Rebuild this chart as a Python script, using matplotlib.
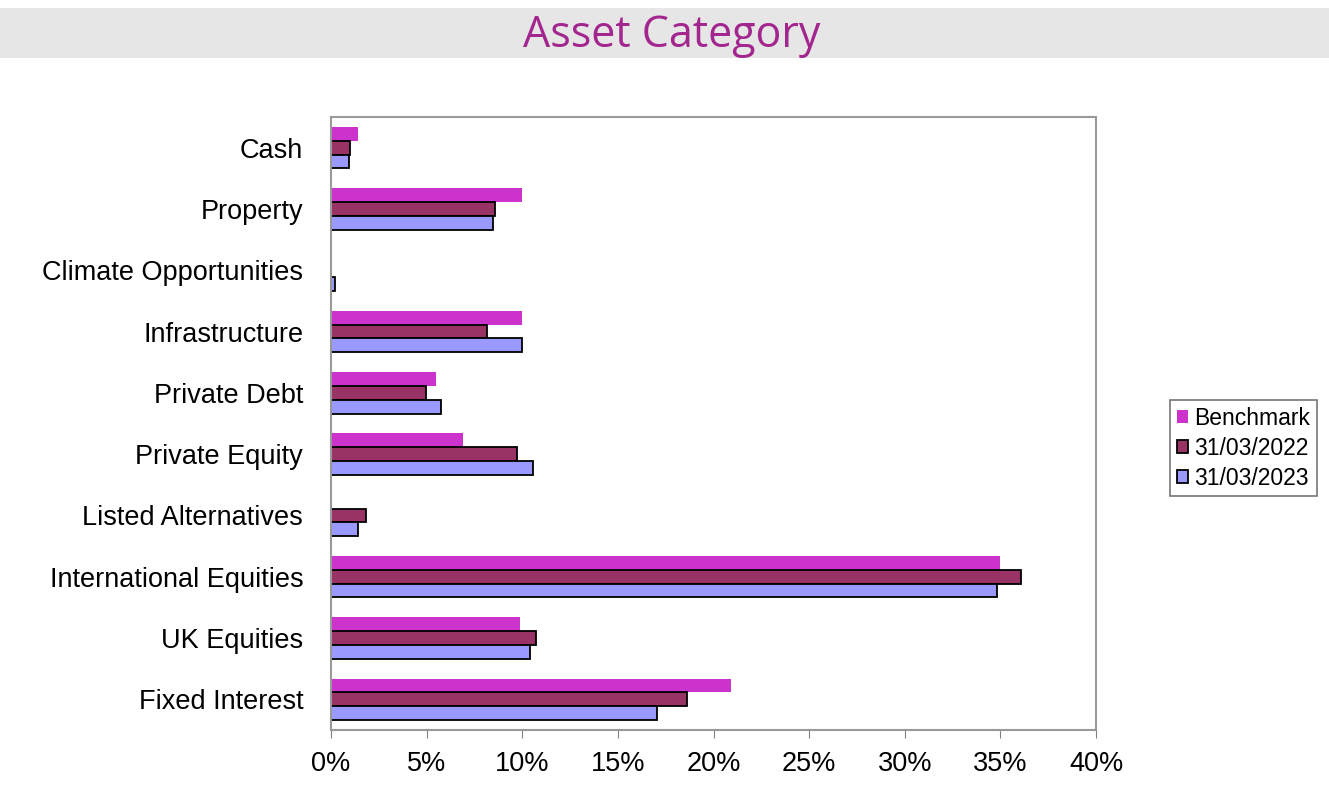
import matplotlib
matplotlib.use("Agg")
import matplotlib.pyplot as plt
import numpy as np
from matplotlib.patches import Rectangle

categories = ["Cash", "Property", "Climate Opportunities", "Infrastructure", "Private Debt",
              "Private Equity", "Listed Alternatives", "International Equities", "UK Equities",
              "Fixed Interest"]
benchmark = [1.4, 10.0, 0.0, 10.0, 5.5, 6.9, 0.0, 35.0, 9.9, 20.9]
y2022 = [1.0, 8.55, 0.0, 8.15, 4.95, 9.75, 1.85, 36.1, 10.7, 18.6]
y2023 = [0.95, 8.45, 0.22, 10.0, 5.75, 10.55, 1.42, 34.8, 10.4, 17.05]
series_names = ["Benchmark", "31/03/2022", "31/03/2023"]
xticks = [0, 5, 10, 15, 20, 25, 30, 35, 40]

W, H = 1329, 791
fig = plt.figure(figsize=(W / 100, H / 100), dpi=100)
fig.patch.set_facecolor("white")

# title band
fig.patches.append(Rectangle((0, 1 - 58 / H), 1, 50 / H, transform=fig.transFigure,
                             facecolor="#e6e6e6", edgecolor="none", zorder=0))
fig.text(672 / W, 1 - 47 / H, "Asset Category", ha="center", va="baseline",
         fontsize=31, color="#a3268f", family="Open Sans")

ax = fig.add_axes([331 / W, 1 - 730 / H, (1096 - 331) / W, (730 - 117) / H])

n = len(categories)
pos = np.arange(n)[::-1]  # Cash at top
bh = 0.225
ax.barh(pos + bh, benchmark, height=bh, color="#cc33cc", edgecolor="none", label=series_names[0])
ax.barh(pos, y2022, height=bh, color="#993366", edgecolor="black", linewidth=1.3, label=series_names[1])
ax.barh(pos - bh, y2023, height=bh, color="#9999ff", edgecolor="black", linewidth=1.3, label=series_names[2])

ax.set_xlim(0, 40)
ax.set_ylim(-0.5, n - 0.5)
ax.set_xticks(xticks)
ax.set_xticklabels([f"{t}%" for t in xticks], fontsize=19.5, family="Liberation Sans")
ax.set_yticks(pos)
ax.set_yticklabels(categories, fontsize=19.5, family="Liberation Sans")
ax.tick_params(axis="y", length=0, pad=20)
ax.tick_params(axis="x", length=6, color="#808080", pad=9)
for s in ax.spines.values():
    s.set_color("#999999")
    s.set_linewidth(1.5)

leg = fig.legend(loc="upper left", bbox_to_anchor=(1170 / W, 1 - 400 / H),
                 prop={"family": "Liberation Sans", "size": 16.5}, frameon=True,
                 fancybox=False, handlelength=0.5, handleheight=0.5, handletextpad=0.25,
                 borderpad=0.3, labelspacing=0.3, borderaxespad=0)
leg.get_frame().set_edgecolor("#555555")
leg.get_frame().set_linewidth(1.2)

fig.savefig("out.png", dpi=100)
